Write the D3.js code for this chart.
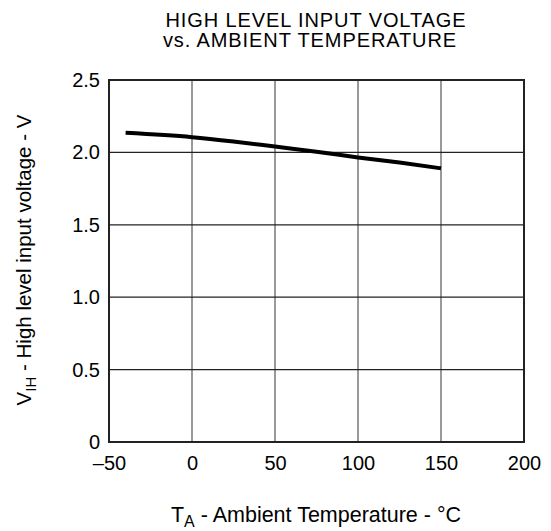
<!DOCTYPE html>
<html>
<head>
<meta charset="utf-8">
<script src="https://cdn.jsdelivr.net/npm/d3@7"></script>
<style>
  body { margin: 0; background: #fff; }
  svg { display: block; }
  text { font-family: "Liberation Sans", Arial, sans-serif; fill: #000; }
</style>
</head>
<body>
<svg id="chart" width="551" height="531"></svg>
<script>
const titleLines = ["HIGH LEVEL INPUT VOLTAGE", "vs. AMBIENT TEMPERATURE"];
const xTicks = [-50, 0, 50, 100, 150, 200];
const xTickLabels = ["\u201350", "0", "50", "100", "150", "200"];
const yTicks = [0, 0.5, 1.0, 1.5, 2.0, 2.5];
const yTickLabels = ["0", "0.5", "1.0", "1.5", "2.0", "2.5"];
const temperature = [-40, 0, 25, 50, 75, 100, 125, 150];
const vih = [2.135, 2.105, 2.075, 2.04, 2.005, 1.965, 1.93, 1.89];

(function () {
const svg = d3.select("#chart");
const pL = 109, pR = 524, pT = 80, pB = 442;
const x = d3.scaleLinear().domain([-50, 200]).range([pL, pR]);
const y = d3.scaleLinear().domain([0, 2.5]).range([pB, pT]);

// grid
const g = svg.append("g");
g.selectAll(".vg").data(xTicks.slice(1, -1)).enter().append("line")
  .attr("x1", d => x(d)).attr("x2", d => x(d))
  .attr("y1", pT).attr("y2", pB)
  .attr("stroke", "#777").attr("stroke-width", 1.5);
g.selectAll(".hg").data(yTicks.slice(1, -1)).enter().append("line")
  .attr("x1", pL).attr("x2", pR)
  .attr("y1", d => y(d)).attr("y2", d => y(d))
  .attr("stroke", "#222").attr("stroke-width", 1.2);

// frame
svg.append("rect").attr("x", pL).attr("y", pT)
  .attr("width", pR - pL).attr("height", pB - pT)
  .attr("fill", "none").attr("stroke", "#222").attr("stroke-width", 2);

const xAxis = d3.axisBottom(x).tickValues(xTicks)
  .tickFormat((d, i) => xTickLabels[i]).tickSize(0).tickPadding(14);
const xa = svg.append("g").attr("transform", `translate(0,${pB})`).call(xAxis);
xa.select(".domain").remove();
xa.selectAll("text").attr("font-size", 20).attr("font-family", "Liberation Sans, Arial, sans-serif").attr("fill", "#000");

const yAxis = d3.axisLeft(y).tickValues(yTicks)
  .tickFormat((d, i) => yTickLabels[i]).tickSize(0).tickPadding(9);
const ya = svg.append("g").attr("transform", `translate(${pL},0)`).call(yAxis);
ya.select(".domain").remove();
ya.selectAll("text").attr("font-size", 20).attr("font-family", "Liberation Sans, Arial, sans-serif").attr("fill", "#000");

// data line
svg.append("path").datum(temperature.map((t, i) => [t, vih[i]]))
  .attr("fill", "none").attr("stroke", "#000").attr("stroke-width", 4)
  .attr("d", d3.line().x(d => x(d[0])).y(d => y(d[1])).curve(d3.curveMonotoneX));

// title
svg.append("text").attr("x", 316).attr("y", 27).attr("text-anchor", "middle")
  .attr("font-size", 20).attr("letter-spacing", 0.9).text(titleLines[0]);
svg.append("text").attr("x", 310).attr("y", 47).attr("text-anchor", "middle")
  .attr("font-size", 20).attr("letter-spacing", 0.9).text(titleLines[1]);

// x label
const xl = svg.append("text").attr("x", 316).attr("y", 522).attr("text-anchor", "middle")
  .attr("font-size", 21.5);
xl.append("tspan").text("T");
xl.append("tspan").attr("font-size", 16).attr("dy", 5).text("A");
xl.append("tspan").attr("dy", -5).text(" - Ambient Temperature - \u00B0C");

// y label
const yl = svg.append("text").attr("transform", "translate(31,260) rotate(-90)")
  .attr("text-anchor", "middle").attr("font-size", 20.5);
yl.append("tspan").text("V");
yl.append("tspan").attr("font-size", 15).attr("dy", 5).text("IH");
yl.append("tspan").attr("dy", -5).text(" - High level input voltage - V");
})();
</script>
</body>
</html>
